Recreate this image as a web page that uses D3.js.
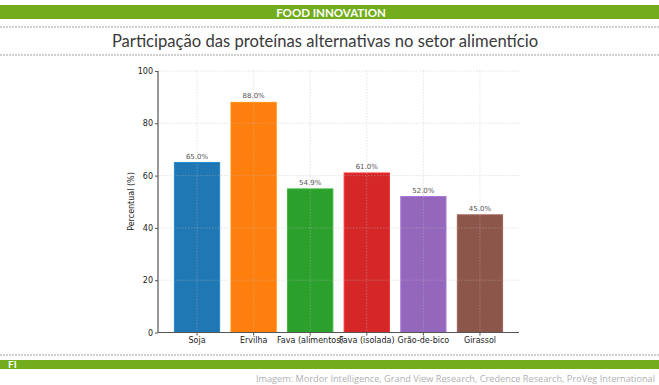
<!DOCTYPE html>
<html><head><meta charset="utf-8">
<script src="https://cdn.jsdelivr.net/npm/d3@7"></script>
<style>html,body{margin:0;padding:0;background:#fff;overflow:hidden}</style>
</head><body>
<svg id="c" width="659" height="385"></svg>
<script>
const categories = ["Soja","Ervilha","Fava (alimentos)","Fava (isolada)","Grão-de-bico","Girassol"];
const values = [65.0, 88.0, 54.9, 61.0, 52.0, 45.0];
const colors = ["#1f77b4","#ff7f0e","#2ca02c","#d62728","#9467bd","#8c564b"];
const yTicks = [0,20,40,60,80,100];
const headerText = "FOOD INNOVATION";
const titleText = "Participação das proteínas alternativas no setor alimentício";
const yLabel = "Percentual (%)";
const footerLeft = "FI";
const sourceText = "Imagem: Mordor Intelligence, Grand View Research, Credence Research, ProVeg International";

const svg = d3.select("#c");
const W = 659, green = "#72ad1e";

// header
svg.append("rect").attr("x",0).attr("y",5).attr("width",W).attr("height",14).attr("fill",green);
svg.append("text").attr("x",331).attr("y",16.5).attr("text-anchor","middle")
  .attr("font-family","Lato, sans-serif").attr("font-size",11.5).attr("font-weight","bold")
  .attr("fill","#fff").text(headerText);
function dotted(y){
  svg.append("line").attr("x1",0).attr("x2",W).attr("y1",y).attr("y2",y)
    .attr("stroke","#cfcfcf").attr("stroke-width",2).attr("stroke-dasharray","2,1");
}
dotted(27); dotted(55); dotted(355);
svg.append("text").attr("x",325).attr("y",47).attr("text-anchor","middle")
  .attr("font-family","Lato, sans-serif").attr("font-size",16.6)
  .attr("fill","#3a3a3a").text(titleText);

// footer
svg.append("rect").attr("x",0).attr("y",360).attr("width",W).attr("height",9).attr("fill",green);
svg.append("text").attr("x",8).attr("y",368).attr("font-family","Lato, sans-serif")
  .attr("font-size",10).attr("font-weight","bold").attr("fill","#fff").text(footerLeft);
svg.append("text").attr("x",655).attr("y",382).attr("text-anchor","end")
  .attr("font-family","'Open Sans', sans-serif").attr("font-size",9.2)
  .attr("fill","#b0b0b0").text(sourceText);

// chart
const x = d3.scaleBand().domain(categories).range([158,519]).paddingInner(0.2).paddingOuter(0.29);
const y = d3.scaleLinear().domain([0,100]).range([332.5,71]);
const g = svg.append("g");

g.selectAll("rect.bar").data(values).enter().append("rect")
  .attr("x",(d,i)=>x(categories[i])).attr("width",x.bandwidth())
  .attr("y",d=>y(d)).attr("height",d=>y(0)-y(d))
  .attr("fill",(d,i)=>colors[i]).attr("stroke",(d,i)=>d3.color(colors[i]).brighter(0.4))
  .attr("stroke-width",1);

// grid (over bars)
g.selectAll("line.hg").data(yTicks.slice(1)).enter().append("line")
  .attr("x1",158).attr("x2",519).attr("y1",d=>y(d)).attr("y2",d=>y(d))
  .attr("stroke","#bbbbbb").attr("stroke-opacity",0.5).attr("stroke-width",0.8).attr("stroke-dasharray","1.5,1.5");
g.selectAll("line.vg").data(categories).enter().append("line")
  .attr("x1",d=>x(d)+x.bandwidth()/2).attr("x2",d=>x(d)+x.bandwidth()/2).attr("y1",71).attr("y2",332.5)
  .attr("stroke","#bbbbbb").attr("stroke-opacity",0.5).attr("stroke-width",0.8).attr("stroke-dasharray","1.5,1.5");

// value labels
g.selectAll("text.v").data(values).enter().append("text")
  .attr("x",(d,i)=>x(categories[i])+x.bandwidth()/2).attr("y",d=>y(d)-4)
  .attr("text-anchor","middle").attr("font-family","'DejaVu Sans', sans-serif")
  .attr("font-size",7).attr("fill","#555").text(d=>d.toFixed(1)+"%");

// axes
const ya = g.append("g").attr("transform","translate(158,0)")
  .call(d3.axisLeft(y).tickValues(yTicks).tickSize(3).tickPadding(2));
const xa = g.append("g").attr("transform","translate(0,332.5)")
  .call(d3.axisBottom(x).tickSize(3).tickPadding(2));
[ya,xa].forEach(a=>{
  a.select(".domain").attr("stroke","#555").attr("stroke-width",1.2);
  a.selectAll(".tick line").attr("stroke","#555");
  a.selectAll("text").attr("font-family","'DejaVu Sans', sans-serif").attr("font-size",8).attr("fill","#222");
});
xa.select(".domain").attr("d","M158,0H519");
ya.select(".domain").attr("d","M0,71V332.5");

svg.append("text").attr("transform","translate(134,201.5) rotate(-90)")
  .attr("text-anchor","middle").attr("font-family","'DejaVu Sans', sans-serif")
  .attr("font-size",8).attr("fill","#222").text(yLabel);
</script>
</body></html>
